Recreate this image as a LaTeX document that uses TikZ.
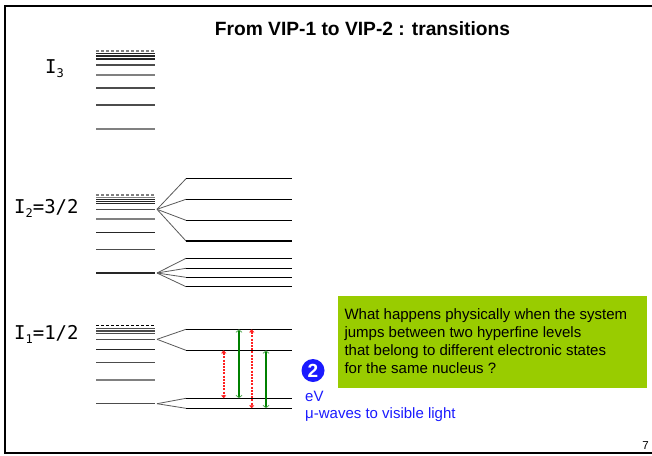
\documentclass[tikz,border=0pt]{standalone}
\usepackage{fontspec}
\setmainfont{Liberation Sans}
\newfontfamily\labfont{DejaVu Sans Mono}
\usetikzlibrary{arrows.meta}
\definecolor{boxgreen}{HTML}{99CC00}
\definecolor{arrgreen}{HTML}{008000}
\definecolor{tipgreen}{HTML}{55AA55}
\definecolor{txtblue}{HTML}{1A1AFF}
\definecolor{arrred}{HTML}{FF2020}
\newcommand{\isub}[1]{\raisebox{-4pt}{\fontsize{12}{12}\selectfont #1}}
\begin{document}
\begin{tikzpicture}[x=1pt,y=-1pt,
  lev/.style={line width=1.1pt, black!85},
  levd/.style={line width=1.1pt, black!70},
  levg/.style={line width=1.6pt, black!50},
  levdash/.style={line width=1.1pt, black!50, dash pattern=on 3pt off 2pt},
  levdashk/.style={line width=1.1pt, black, dash pattern=on 3pt off 2pt},
  fanline/.style={line width=0.8pt, black!65},
  splitlev/.style={line width=1.1pt, black},
  redarr/.style={arrred, line width=1.6pt, dash pattern=on 2pt off 1.2pt,
    {Triangle[length=3pt,width=5pt]}-{Triangle[length=3pt,width=5pt]}},
  greenarr/.style={arrgreen, line width=1.9pt,
    {Straight Barb[length=2.5pt,width=6pt,color=tipgreen,line width=0.8pt]}-{Straight Barb[length=2.5pt,width=6pt,color=tipgreen,line width=0.8pt]}},
  lab/.style={anchor=base west, inner sep=0pt, font=\labfont\fontsize{19}{22}\selectfont},
  qtext/.style={anchor=base west, inner sep=0pt, font=\fontsize{15}{18}\selectfont},
  bluetext/.style={anchor=base west, inner sep=0pt, text=txtblue, font=\fontsize{15}{17}\selectfont}
]
\useasboundingbox (0,0) rectangle (652,455);
% frame
\draw[line width=2.2pt, black] (660,6) -- (5,6) -- (5,453) -- (660,453);
% title
\node[inner sep=0pt, font=\bfseries\fontsize{19.2}{22}\selectfont] (title) at (362.5,29) {From VIP-1 to VIP-2 : transitions};

% ---------- I3 ----------
\draw[levdash] (96,51) -- (155,51);
\foreach \y in {53.5,56,59} \draw[lev] (96,\y) -- (155,\y);
\draw[levd] (96,65) -- (155,65);
\draw[levg] (96,75) -- (155,75);
\draw[levd] (96,88) -- (155,88);
\draw[levd] (96,105) -- (155,105);
\draw[levg] (96,129) -- (155,129);
\node[lab] (lab3) at (45,73) {I\isub{3}};

% ---------- I2 ----------
\draw[levdash] (96,195) -- (155,195);
\draw[levg] (96,197.3) -- (155,197.3);
\foreach \y in {199.3,201.3,203.4} \draw[lev] (96,\y) -- (155,\y);
\draw[levd] (96,209.3) -- (155,209.3);
\draw[levg] (96,219) -- (155,219);
\draw[lev] (96,232.3) -- (155,232.3);
\draw[levd] (96,249.3) -- (155,249.3);
\draw[lev] (96,273) -- (155,273);
\node[lab] (lab2) at (14,213.5) {I\isub{2}=3/2};

\coordinate (s2) at (157,209.3);
\coordinate (s2b) at (157,273);
\foreach \n/\y in {a/178.7,b/199.3,c/220.3,d/241} {
  \coordinate (u\n) at (186,\y);
  \draw[fanline] (s2) -- (u\n);
  \draw[splitlev] (u\n) -- (292,\y);
}
\foreach \n/\y in {a/258.3,b/268.3,c/277.3,d/286.7} {
  \coordinate (l\n) at (186,\y);
  \draw[fanline] (s2b) -- (l\n);
  \draw[splitlev] (l\n) -- (292,\y);
}

% ---------- I1 ----------
\draw[levdashk] (96,325.7) -- (155,325.7);
\foreach \y in {328.3,330,331.7,333.3} \draw[levd, line width=0.9pt] (96,\y) -- (155,\y);
\draw[levd] (96,339.3) -- (155,339.3);
\draw[lev] (96,349.3) -- (155,349.3);
\draw[levd] (96,362.7) -- (155,362.7);
\draw[levg] (96,379.7) -- (155,379.7);
\draw[levd] (96,403.7) -- (155,403.7);
\node[lab] (lab1) at (14,339.5) {I\isub{1}=1/2};

\coordinate (s1) at (157,339.3);
\coordinate (s1b) at (157,403.7);
\coordinate (ha) at (186,329.3);
\coordinate (hb) at (186,350.3);
\coordinate (hc) at (186,398.3);
\coordinate (hd) at (186,408.3);
\foreach \n in {ha,hb} \draw[fanline] (s1) -- (\n);
\foreach \n in {hc,hd} \draw[fanline] (s1b) -- (\n);
\foreach \n in {ha,hb,hc,hd} \draw[splitlev] (\n) -- ([xshift=106pt]\n);

% transitions
\draw[redarr] ([xshift=37.7pt]hb) -- ([xshift=37.7pt]hc);
\draw[greenarr] ([xshift=53pt]ha) -- ([xshift=53pt]hc);
\draw[redarr] ([xshift=65.7pt]ha) -- ([xshift=65.7pt]hd);
\draw[greenarr] ([xshift=80pt]hb) -- ([xshift=80pt]hd);

% question box
\fill[boxgreen] (338.3,296) rectangle (646.7,387.7);
\node[qtext] (q1) at (344.3,319.3) {What happens physically when the system};
\node[qtext] (q2) at (344.3,337.5) {jumps between two hyperfine levels};
\node[qtext] (q3) at (344.3,355.5) {that belong to different electronic states};
\node[qtext] (q4) at (344.3,373.5) {for the same nucleus ?};

% blue annotations
\node[circle, fill=txtblue, inner sep=0pt, minimum size=23pt, text=white,
  font=\bfseries\fontsize{19}{19}\selectfont] (two) at (313,370.5) {2};
\node[bluetext] (ev) at (305,401.7) {eV};
\node[bluetext] (mu) at (305,418.3) {μ-waves to visible light};

% page number
\node[inner sep=0pt, font=\fontsize{11.5}{11.5}\selectfont] (page) at (645.5,445.5) {7};
\end{tikzpicture}
\end{document}
